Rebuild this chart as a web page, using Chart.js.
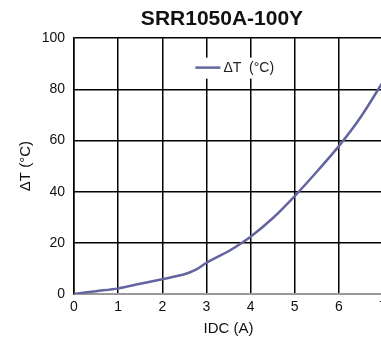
<!DOCTYPE html>
<html>
<head>
<meta charset="utf-8">
<script src="https://cdn.jsdelivr.net/npm/chart.js@4.4.1/dist/chart.umd.min.js"></script>
<style>
  html, body { margin: 0; padding: 0; background: #fff; overflow: hidden; }
  #wrap { width: 444px; height: 341px; }
</style>
</head>
<body>
<div id="wrap"><canvas id="chart"></canvas></div>
<script>
// current (A) vs temperature rise
const idc = [0, 0.5, 1, 1.5, 2, 2.5, 2.75, 3, 3.25, 3.5, 4, 4.5, 5, 5.5, 6, 6.5, 7];
const deltaT = [0, 1.1, 2.2, 4.0, 5.8, 7.7, 9.4, 12.2, 14.5, 16.7, 22.4, 29.6, 38.3, 47.8, 57.8, 69.3, 83];
const xTicks = [0, 1, 2, 3, 4, 5, 6, 7];
const yTicks = [0, 20, 40, 60, 80, 100];

const lineColor = 'rgb(100,100,160)';
const fontFamily = "'Liberation Sans', Arial, sans-serif";

// legend drawn inside the plot, on a white patch over the grid
const insideLegend = {
  id: 'insideLegend',
  beforeDatasetsDraw(chart) {
    const ctx = chart.ctx;
    const ds = chart.data.datasets[0];
    const x = chart.scales.x.getPixelForValue(2.75);
    const y = chart.scales.y.getPixelForValue(88.5);
    ctx.save();
    ctx.fillStyle = '#fff';
    ctx.fillRect(x - 6, y - 10, 86, 21);
    ctx.strokeStyle = ds.borderColor;
    ctx.lineWidth = 2.5;
    ctx.beginPath();
    ctx.moveTo(x, y);
    ctx.lineTo(x + 25, y);
    ctx.stroke();
    ctx.fillStyle = '#222';
    ctx.font = '14px ' + fontFamily;
    ctx.textBaseline = 'middle';
    ctx.fillText(ds.label, x + 28, y + 1);
    ctx.restore();
  }
};

const data = {
  datasets: [{
    label: 'ΔT  (°C)',
    data: idc.map((v, i) => ({ x: v, y: deltaT[i] })),
    borderColor: lineColor,
    borderWidth: 2.5,
    pointRadius: 0,
    tension: 0.3,
    fill: false
  }]
};

const config = {
  type: 'line',
  data: data,
  options: {
    responsive: true,
    maintainAspectRatio: false,
    animation: false,
    layout: { padding: 0 },
    plugins: {
      legend: { display: false },
      tooltip: { enabled: false },
      title: {
        display: true,
        text: 'SRR1050A-100Y',
        color: '#111',
        font: { family: fontFamily, size: 21, weight: 'bold' },
        padding: { top: 7, bottom: 6 }
      }
    },
    scales: {
      x: {
        type: 'linear',
        min: 0,
        max: 7,
        afterBuildTicks: s => { s.ticks = xTicks.map(v => ({ value: v })); },
        afterFit: s => { s.height = 47; },
        ticks: { color: '#111', padding: 5, font: { family: fontFamily, size: 14 } },
        grid: { color: '#000', lineWidth: 1.5, drawTicks: false },
        border: { color: '#999', width: 2 },
        title: {
          display: true,
          text: 'IDC (A)',
          color: '#111',
          font: { family: fontFamily, size: 15 },
          padding: { top: 0, bottom: 3 }
        }
      },
      y: {
        min: 0,
        max: 100,
        afterBuildTicks: s => { s.ticks = yTicks.map(v => ({ value: v })); },
        afterFit: s => { s.width = 74; },
        ticks: { color: '#111', padding: 9, font: { family: fontFamily, size: 14 } },
        grid: {
          color: c => (c.tick && c.tick.value === 0 ? '#999' : '#000'),
          lineWidth: 1.5,
          drawTicks: false
        },
        border: { color: '#000', width: 1.5 },
        title: {
          display: true,
          text: 'ΔT (°C)',
          color: '#111',
          font: { family: fontFamily, size: 15 },
          padding: { top: 17, bottom: 0 }
        }
      },
      // empty right-hand axis, only to leave the cropped space on the right
      y2: {
        position: 'right',
        min: 0,
        max: 100,
        afterFit: s => { s.width = 61; },
        ticks: { display: false },
        grid: { display: false, drawOnChartArea: false },
        border: { display: false }
      }
    }
  },
  plugins: [insideLegend]
};

window.onload = function() {
  const ctx = document.getElementById('chart').getContext('2d');
  window.myChart = new Chart(ctx, config);
};
</script>
</body>
</html>
